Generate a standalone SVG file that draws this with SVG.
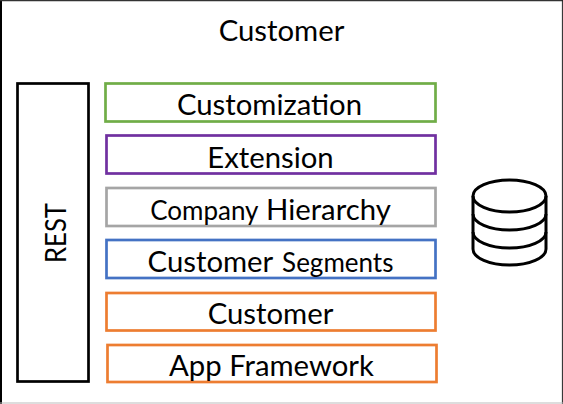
<svg xmlns="http://www.w3.org/2000/svg" width="563" height="404" viewBox="0 0 563 404">
<style>
text{font-family:"Lato","Liberation Sans",sans-serif;fill:#000;text-anchor:middle}
.t{font-size:29.300px}
.s{font-size:26px}
.b{fill:#fff;stroke-width:2.700}
</style>
<rect width="563" height="404" fill="#fff"/>
<g id="customer-outer">
<path d="M1 0V404" stroke="#000" stroke-width="2" fill="none"/>
<path d="M0 .6H563" stroke="#333" stroke-width="1.300" fill="none"/>
<path d="M562.400 0V404" stroke="#222" stroke-width="1" fill="none"/>
<path d="M0 403H563" stroke="#bbb" stroke-width="1" fill="none"/>
<text class="t" x="281.500" y="41">Customer</text>
</g>
<g id="rest">
<rect x="17.500" y="83.500" width="71" height="298" fill="#fff" stroke="#000" stroke-width="2.700"/>
<text class="t" transform="translate(66,233) rotate(-90)" textLength="60" lengthAdjust="spacingAndGlyphs">REST</text>
</g>
<g id="customization">
<rect class="b" x="105.500" y="83.500" width="330" height="38" stroke="#70ad47"/>
<text class="t" x="269.500" y="115">Customization</text>
</g>
<g id="extension">
<rect class="b" x="106.500" y="135.500" width="329" height="38" stroke="#7030a0"/>
<text class="t" x="270.500" y="168">Extension</text>
</g>
<g id="company-hierarchy">
<rect class="b" x="106.500" y="188" width="329" height="38" stroke="#a5a5a5"/>
<text class="t" x="270.500" y="220"><tspan class="s">Company</tspan> Hierarchy</text>
</g>
<g id="customer-segments">
<rect class="b" x="106.500" y="240" width="329" height="38" stroke="#4472c4"/>
<text class="t" x="270.500" y="272" word-spacing="2">Customer <tspan class="s">Segments</tspan></text>
</g>
<g id="customer">
<rect class="b" x="106.500" y="293" width="329" height="37.500" stroke="#ed7d31"/>
<text class="t" x="270.500" y="324">Customer</text>
</g>
<g id="app-framework">
<rect class="b" x="107.500" y="345" width="329" height="37" stroke="#ed7d31"/>
<text class="t" x="271.500" y="376">App Framework</text>
</g>
<g id="database" fill="none" stroke="#000" stroke-width="3">
<ellipse cx="509.500" cy="196" rx="36.500" ry="16"/>
<path d="M473 196V249C473 258 489.500 265 509.500 265S546 258 546 249V196"/>
<path d="M473 214C473 223 489.500 230 509.500 230S546 223 546 214"/>
<path d="M473 232C473 241 489.500 248 509.500 248S546 241 546 232"/>
</g>
<g id="connectors"/>
</svg>
